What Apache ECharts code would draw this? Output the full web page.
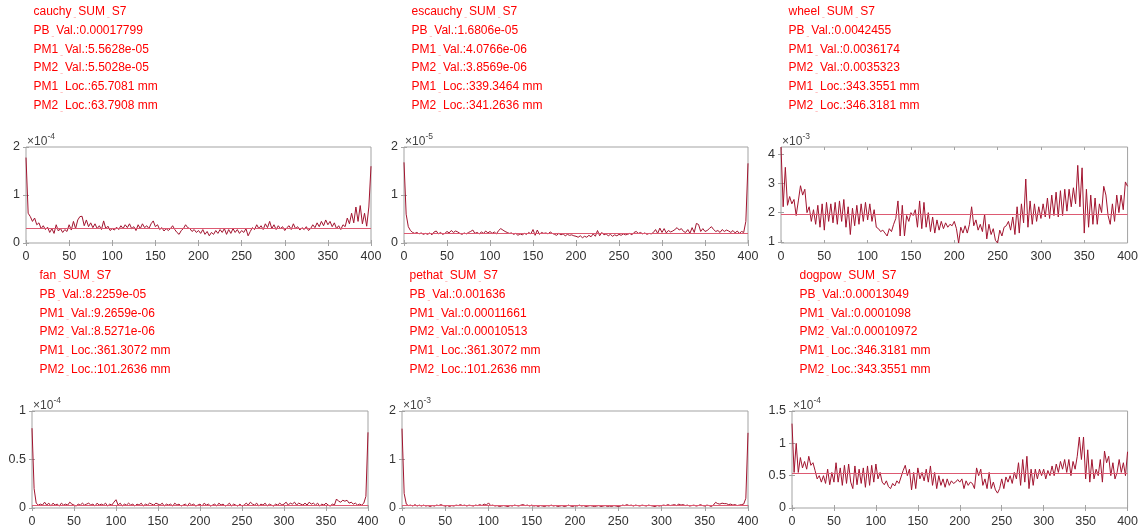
<!DOCTYPE html>
<html>
<head>
<meta charset="utf-8">
<script src="https://cdn.jsdelivr.net/npm/echarts@6/dist/echarts.min.js"></script>
<style>
  html, body { margin: 0; padding: 0; background: #ffffff; }
  #chart { width: 1141px; height: 529px; }
</style>
</head>
<body>
<div id="chart"></div>
<script>
// Profiles are sampled every 2.5 mm along the 0–400 mm scan line.
const SAMPLE_STEP_MM = 2.5;
const xTicks = [0, 50, 100, 150, 200, 250, 300, 350, 400];

const panelNames = ['cauchy_SUM_S7', 'escauchy_SUM_S7', 'wheel_SUM_S7', 'fan_SUM_S7', 'pethat_SUM_S7', 'dogpow_SUM_S7'];
const pbVal   = ['0.00017799', '1.6806e-05', '0.0042455', '8.2259e-05', '0.001636', '0.00013049'];
const pm1Val  = ['5.5628e-05', '4.0766e-06', '0.0036174', '9.2659e-06', '0.00011661', '0.0001098'];
const pm2Val  = ['5.5028e-05', '3.8569e-06', '0.0035323', '8.5271e-06', '0.00010513', '0.00010972'];
const pm1Loc  = ['65.7081', '339.3464', '343.3551', '361.3072', '361.3072', '346.3181'];
const pm2Loc  = ['63.7908', '341.2636', '346.3181', '101.2636', '101.2636', '343.3551'];

// Values below are in units of 10^exponent.
const yExponent = [-4, -5, -3, -4, -3, -4];
const yMin = [0, 0, 0.96, 0, 0, 0];
const yMax = [2, 2, 4.2455, 1, 2, 1.5];
const yTicks = [[0, 1, 2], [0, 1, 2], [1, 2, 3, 4], [0, 0.5, 1], [0, 1, 2], [0, 0.5, 1, 1.5]];
const meanLevel = [0.31, 0.205, 1.95, 0.03, 0.05, 0.53];

const cauchy = [
  1.7799,0.62,0.55,0.45,0.52,0.38,0.42,0.30,0.36,0.28,
  0.33,0.22,0.30,0.20,0.38,0.25,0.30,0.22,0.28,0.24,
  0.38,0.27,0.45,0.30,0.48,0.5503,0.5563,0.36,0.48,0.34,
  0.42,0.32,0.40,0.30,0.36,0.28,0.46,0.30,0.35,0.26,
  0.30,0.27,0.33,0.28,0.36,0.30,0.38,0.32,0.40,0.30,
  0.34,0.26,0.38,0.30,0.40,0.32,0.36,0.30,0.40,0.46,
  0.34,0.38,0.28,0.32,0.25,0.30,0.26,0.30,0.36,0.28,
  0.22,0.18,0.26,0.30,0.38,0.32,0.30,0.24,0.28,0.22,
  0.26,0.20,0.28,0.18,0.24,0.15,0.22,0.18,0.26,0.20,
  0.28,0.22,0.30,0.18,0.28,0.20,0.30,0.22,0.28,0.20,
  0.26,0.22,0.30,0.15,0.24,0.32,0.28,0.38,0.30,0.36,
  0.28,0.40,0.32,0.45,0.30,0.38,0.28,0.36,0.30,0.34,
  0.26,0.32,0.36,0.28,0.40,0.30,0.34,0.27,0.32,0.28,
  0.34,0.26,0.30,0.38,0.32,0.42,0.34,0.45,0.36,0.48,
  0.38,0.45,0.34,0.42,0.30,0.36,0.28,0.38,0.34,0.52,
  0.40,0.62,0.42,0.75,0.45,0.78,0.40,0.62,0.35,0.75,
  1.60
];

const escauchy = [
  1.6806,0.60,0.34,0.26,0.22,0.20,0.22,0.19,0.21,0.18,
  0.20,0.18,0.21,0.17,0.23,0.25,0.19,0.22,0.18,0.20,
  0.24,0.21,0.26,0.22,0.25,0.23,0.20,0.18,0.21,0.19,
  0.22,0.24,0.27,0.20,0.22,0.19,0.23,0.20,0.25,0.21,
  0.24,0.20,0.23,0.19,0.26,0.30,0.27,0.24,0.22,0.20,
  0.21,0.18,0.20,0.16,0.19,0.17,0.20,0.18,0.22,0.19,
  0.28,0.16,0.27,0.18,0.22,0.20,0.21,0.19,0.23,0.20,
  0.18,0.16,0.20,0.17,0.19,0.15,0.18,0.16,0.17,0.15,
  0.14,0.12,0.15,0.11,0.14,0.12,0.16,0.13,0.19,0.14,
  0.26,0.15,0.22,0.17,0.19,0.15,0.18,0.14,0.17,0.15,
  0.18,0.16,0.19,0.17,0.18,0.20,0.17,0.22,0.24,0.20,
  0.22,0.19,0.21,0.18,0.20,0.19,0.22,0.28,0.20,0.31,
  0.22,0.30,0.21,0.26,0.23,0.25,0.28,0.32,0.27,0.30,
  0.24,0.22,0.28,0.20,0.32,0.22,0.40766,0.38569,0.24,0.30,
  0.24,0.26,0.30,0.34,0.28,0.24,0.26,0.22,0.28,0.24,
  0.27,0.25,0.22,0.26,0.21,0.25,0.20,0.24,0.22,0.45,
  1.66
];

const wheel = [
  4.2455,2.20,3.55,2.25,2.55,2.30,2.45,1.90,2.40,2.92,
  2.60,2.80,2.00,2.20,1.70,2.10,1.60,2.25,1.50,2.30,
  1.40,2.35,1.70,2.30,1.65,2.35,1.60,2.40,1.70,2.45,
  1.50,2.20,1.25,2.15,1.55,2.25,1.60,2.30,1.70,2.35,
  1.75,2.30,1.70,2.10,1.50,1.45,1.35,1.40,1.30,1.20,
  1.45,1.35,1.60,1.80,2.40,1.20,2.25,1.20,1.90,1.70,
  2.00,1.90,2.10,1.50,2.40,1.45,2.35,1.50,2.00,1.35,
  1.85,1.30,1.75,1.40,1.70,1.45,1.65,1.50,1.60,1.55,
  1.70,1.45,0.96,1.50,1.30,1.55,1.30,1.60,2.20,1.55,
  1.75,1.40,1.60,1.35,1.95,1.10,1.60,1.25,1.45,1.05,
  0.96,1.40,1.20,1.50,1.55,1.70,1.40,1.85,1.25,2.20,
  1.30,2.30,1.65,3.15,1.50,2.40,1.60,2.30,1.70,2.20,
  1.80,2.30,1.85,2.50,1.80,2.60,1.90,2.70,1.85,2.75,
  1.90,2.80,2.05,2.80,2.20,2.85,2.30,3.6174,2.20,3.5323,
  1.30,2.80,1.50,2.60,1.60,2.50,1.60,2.30,2.00,2.90,
  2.60,1.90,1.60,2.30,1.70,2.60,2.00,2.60,2.10,3.05,
  2.90
];

const fan = [
  0.82259,0.20,0.05,0.03,0.04,0.03,0.06,0.03,0.05,0.02,
  0.05,0.03,0.04,0.02,0.05,0.03,0.04,0.03,0.06,0.04,
  0.03,0.02,0.04,0.03,0.05,0.03,0.04,0.05,0.03,0.04,
  0.02,0.05,0.03,0.04,0.03,0.05,0.02,0.04,0.03,0.06,
  0.085271,0.03,0.05,0.02,0.04,0.03,0.05,0.03,0.04,0.02,
  0.04,0.03,0.05,0.02,0.04,0.03,0.05,0.04,0.03,0.05,
  0.04,0.03,0.05,0.02,0.04,0.03,0.04,0.02,0.05,0.03,
  0.04,0.02,0.03,0.04,0.02,0.05,0.03,0.04,0.02,0.03,
  0.04,0.02,0.05,0.03,0.04,0.02,0.03,0.04,0.02,0.05,
  0.03,0.04,0.02,0.03,0.05,0.02,0.04,0.03,0.02,0.04,
  0.02,0.03,0.05,0.03,0.06,0.04,0.03,0.05,0.02,0.04,
  0.03,0.05,0.02,0.04,0.03,0.02,0.04,0.03,0.05,0.03,
  0.04,0.06,0.03,0.05,0.04,0.06,0.03,0.05,0.04,0.03,
  0.05,0.03,0.06,0.04,0.05,0.03,0.05,0.02,0.04,0.03,
  0.05,0.03,0.02,0.04,0.03,0.092659,0.07,0.06,0.08,0.07,
  0.08,0.05,0.06,0.04,0.05,0.03,0.04,0.03,0.05,0.12,
  0.78
];

const pethat = [
  1.636,0.30,0.08,0.05,0.06,0.04,0.07,0.04,0.06,0.04,
  0.06,0.04,0.05,0.03,0.05,0.04,0.06,0.05,0.07,0.05,
  0.04,0.05,0.03,0.05,0.04,0.06,0.05,0.07,0.05,0.06,
  0.04,0.06,0.05,0.04,0.06,0.05,0.07,0.05,0.08,0.06,
  0.10513,0.05,0.06,0.04,0.05,0.03,0.04,0.05,0.04,0.03,
  0.05,0.04,0.06,0.05,0.04,0.06,0.07,0.05,0.06,0.04,
  0.06,0.04,0.05,0.03,0.05,0.04,0.03,0.05,0.04,0.06,
  0.04,0.05,0.03,0.04,0.05,0.03,0.04,0.06,0.04,0.03,
  0.05,0.04,0.06,0.04,0.05,0.03,0.04,0.05,0.04,0.03,
  0.04,0.05,0.03,0.04,0.05,0.03,0.04,0.03,0.05,0.04,
  0.03,0.04,0.06,0.05,0.07,0.05,0.06,0.04,0.06,0.05,
  0.04,0.06,0.05,0.04,0.06,0.05,0.04,0.03,0.05,0.04,
  0.05,0.06,0.05,0.07,0.05,0.06,0.07,0.05,0.08,0.06,
  0.07,0.05,0.06,0.04,0.05,0.06,0.04,0.05,0.07,0.05,
  0.04,0.06,0.05,0.03,0.06,0.11661,0.09,0.08,0.10,0.09,
  0.09,0.07,0.08,0.06,0.07,0.05,0.06,0.07,0.08,0.20,
  1.55
];

const dogpow = [
  1.3049,0.55,1.00,0.55,0.78,0.62,0.72,0.60,0.80,0.66,
  0.70,0.58,0.45,0.50,0.40,0.50,0.38,0.60,0.36,0.55,
  0.40,0.70,0.40,0.62,0.35,0.66,0.38,0.68,0.40,0.30,
  0.65,0.36,0.60,0.38,0.62,0.32,0.65,0.35,0.66,0.40,
  0.68,0.45,0.55,0.40,0.36,0.42,0.33,0.30,0.38,0.34,
  0.42,0.38,0.48,0.58,0.66,0.50,0.60,0.28,0.55,0.30,
  0.62,0.45,0.55,0.42,0.60,0.40,0.65,0.35,0.55,0.30,
  0.50,0.35,0.45,0.32,0.45,0.35,0.42,0.38,0.40,0.44,
  0.40,0.45,0.30,0.42,0.35,0.40,0.38,0.30,0.62,0.50,
  0.60,0.35,0.45,0.30,0.55,0.30,0.40,0.28,0.23,0.30,
  0.45,0.30,0.48,0.40,0.50,0.38,0.55,0.45,0.70,0.35,
  0.75,0.40,0.80,0.30,0.60,0.35,0.60,0.45,0.60,0.50,
  0.60,0.45,0.58,0.50,0.65,0.50,0.68,0.55,0.72,0.60,
  0.75,0.55,0.75,0.50,0.72,0.60,0.80,1.0972,0.75,1.098,
  0.45,0.90,0.40,0.75,0.45,0.60,0.50,0.75,0.40,0.88,
  0.70,0.80,0.50,0.70,0.45,0.55,0.75,0.55,0.70,0.50,
  0.87
];

const profiles = [cauchy, escauchy, wheel, fan, pethat, dogpow];

// Plot-area boxes in pixels.
const boxes = [
  { left: 26,  top: 147, width: 345, height: 96 },
  { left: 404, top: 147, width: 344, height: 96 },
  { left: 781, top: 147, width: 347, height: 96 },
  { left: 32,  top: 411, width: 336, height: 97 },
  { left: 402, top: 411, width: 346, height: 97 },
  { left: 792, top: 411, width: 336, height: 97 }
];

const FONT = '"Liberation Sans", Arial, Helvetica, sans-serif';
const AXIS_GRAY = '#a3a3a3';
const LABEL_GRAY = '#333333';
const LINE_RED = '#a2142f';
const MEAN_RED = '#dd5a72';
const NOTE_RED = '#ff0000';

const grids = [], xAxes = [], yAxes = [], series = [], graphics = [];

boxes.forEach((b, i) => {
  grids.push({
    left: b.left, top: b.top, width: b.width, height: b.height,
    show: true, borderColor: AXIS_GRAY, borderWidth: 1, backgroundColor: 'transparent'
  });

  const tick = { show: true, inside: true, length: 3, lineStyle: { color: AXIS_GRAY, width: 1 } };

  // bottom x axis with labels, top x axis with ticks only
  xAxes.push({
    gridIndex: i, type: 'value', position: 'bottom', min: 0, max: 400, interval: 50,
    axisLine: { show: false }, splitLine: { show: false }, axisTick: tick,
    axisLabel: { show: true, margin: 7, color: LABEL_GRAY, fontSize: 12.5, fontFamily: FONT,
      customValues: xTicks }
  });
  xAxes.push({
    gridIndex: i, type: 'value', position: 'top', min: 0, max: 400, interval: 50,
    axisLine: { show: false }, splitLine: { show: false }, axisTick: tick,
    axisLabel: { show: false }
  });

  yAxes.push({
    gridIndex: i, type: 'value', position: 'left', min: yMin[i], max: yMax[i],
    axisLine: { show: false }, splitLine: { show: false },
    axisTick: Object.assign({ customValues: yTicks[i] }, tick),
    axisLabel: { show: true, margin: 6, color: LABEL_GRAY, fontSize: 12.5, fontFamily: FONT,
      customValues: yTicks[i], formatter: v => String(v) }
  });
  yAxes.push({
    gridIndex: i, type: 'value', position: 'right', min: yMin[i], max: yMax[i],
    axisLine: { show: false }, splitLine: { show: false },
    axisTick: Object.assign({ customValues: yTicks[i] }, tick),
    axisLabel: { show: false, customValues: yTicks[i] }
  });

  series.push({
    type: 'line',
    xAxisIndex: i * 2, yAxisIndex: i * 2,
    data: profiles[i].map((v, k) => [k * SAMPLE_STEP_MM, v]),
    showSymbol: false, symbol: 'none', silent: true,
    lineStyle: { color: LINE_RED, width: 1 },
    markLine: {
      silent: true, symbol: ['none', 'none'], label: { show: false },
      lineStyle: { color: MEAN_RED, width: 1, type: 'solid' },
      emphasis: { disabled: true },
      data: [{ yAxis: meanLevel[i] }]
    },
    z: 3
  });

  // scale factor above the y axis
  graphics.push({
    type: 'text', x: b.left + 1, y: b.top - 5,
    style: { text: '×10', fill: '#444444', font: '12px ' + FONT, verticalAlign: 'middle', align: 'left' }
  });
  graphics.push({
    type: 'text', x: b.left + 21.5, y: b.top - 10,
    style: { text: String(yExponent[i]), fill: '#444444', font: '8.5px ' + FONT, verticalAlign: 'middle', align: 'left' }
  });

  // red annotation block
  const lines = [
    panelNames[i],
    'PB_Val.:' + pbVal[i],
    'PM1_Val.:' + pm1Val[i],
    'PM2_Val.:' + pm2Val[i],
    'PM1_Loc.:' + pm1Loc[i] + ' mm',
    'PM2_Loc.:' + pm2Loc[i] + ' mm'
  ];
  lines.forEach((t, k) => {
    graphics.push({
      type: 'text', x: b.left + 7.5, y: b.top - 135 + k * 18.7,
      style: {
        text: t.split('_').map(s => '{t|' + s + '}').join('{u|_}'),
        verticalAlign: 'middle', align: 'left',
        rich: {
          t: { fontSize: 12, fontFamily: FONT, fill: NOTE_RED, color: NOTE_RED },
          u: { fontSize: 4, fontFamily: FONT, fill: NOTE_RED, color: NOTE_RED,
               padding: [0, 2.3, 0, 2.3], verticalAlign: 'bottom' }
        }
      }
    });
  });
});

const chart = echarts.init(document.getElementById('chart'), null, { renderer: 'canvas' });
chart.setOption({
  animation: false,
  backgroundColor: '#ffffff',
  grid: grids,
  xAxis: xAxes,
  yAxis: yAxes,
  series: series,
  graphic: graphics
});
</script>
</body>
</html>
